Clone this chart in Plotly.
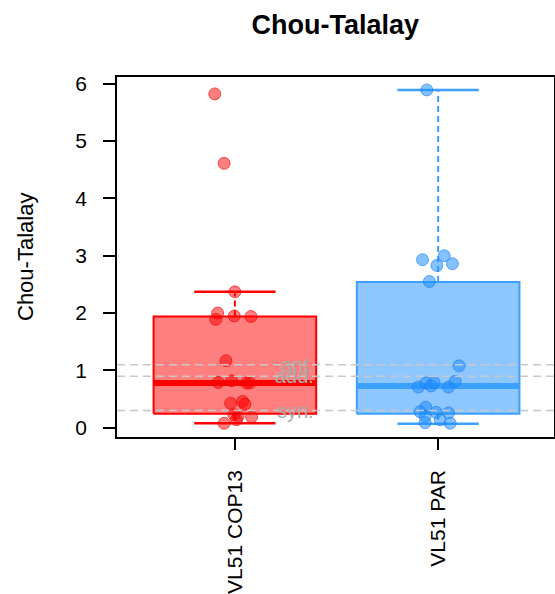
import plotly.graph_objects as go

# ---- data ----
categories = ["VL51 COP13", "VL51 PAR"]

cop13_values = [5.82, 4.61, 2.37, 2.00, 1.89, 1.95, 1.94, 1.17, 0.79, 0.82,
                0.78, 0.78, 0.43, 0.46, 0.41, 0.23, 0.20, 0.19, 0.14, 0.08]
cop13_jitter = [-0.099, -0.053, 0.0, -0.085, -0.094, -0.003, 0.079, -0.044, -0.082, -0.016,
                0.058, 0.074, -0.021, 0.038, 0.049, -0.005, 0.016, 0.082, 0.008, -0.053]

par_values = [5.89, 2.93, 3.00, 2.83, 2.86, 2.55, 1.08, 0.71, 0.78, 0.73,
              0.79, 0.71, 0.81, 0.36, 0.28, 0.27, 0.26, 0.20, 0.14, 0.09, 0.08]
par_jitter = [-0.056, -0.077, 0.030, -0.006, 0.070, -0.043, 0.103, -0.097, -0.059, -0.034,
              -0.020, 0.051, 0.084, -0.061, -0.089, -0.010, 0.051, -0.064, 0.010, -0.064, 0.059]

# box statistics (lower whisker, Q1, median, Q3, upper whisker)
box_lower = [0.08, 0.07]
box_q1 = [0.244, 0.244]
box_median = [0.78, 0.73]
box_q3 = [1.94, 2.54]
box_upper = [2.37, 5.89]

ref_labels = ["ant.", "add.", "syn."]
ref_values = [1.1, 0.9, 0.3]

y_ticks = [0, 1, 2, 3, 4, 5, 6]

# ---- styling ----
FONT = "Liberation Sans, Arial, sans-serif"
line_cols = ["rgb(255,0,0)", "rgb(60,160,255)"]
fill_cols = ["rgba(255,0,0,0.5)", "rgba(30,144,255,0.5)"]
pt_cols = ["rgba(255,0,0,0.5)", "rgba(30,144,255,0.55)"]
pt_line = ["rgba(230,0,0,0.6)", "rgba(30,120,230,0.6)"]
half_w = 0.4
cap_w = 0.2

fig = go.Figure()
positions = [1, 2]
all_values = [cop13_values, par_values]
all_jitter = [cop13_jitter, par_jitter]

for i, pos in enumerate(positions):
    # box
    fig.add_trace(go.Scatter(
        x=[pos - half_w, pos + half_w, pos + half_w, pos - half_w, pos - half_w],
        y=[box_q1[i], box_q1[i], box_q3[i], box_q3[i], box_q1[i]],
        mode="lines", fill="toself", fillcolor=fill_cols[i],
        line=dict(color=line_cols[i], width=2), hoverinfo="skip", showlegend=False))
    # whiskers (dashed)
    fig.add_trace(go.Scatter(
        x=[pos, pos, None, pos, pos],
        y=[box_q3[i], box_upper[i], None, box_q1[i], box_lower[i]],
        mode="lines", line=dict(color=line_cols[i], width=2, dash="6px,4px"),
        hoverinfo="skip", showlegend=False))
    # caps
    fig.add_trace(go.Scatter(
        x=[pos - cap_w, pos + cap_w, None, pos - cap_w, pos + cap_w],
        y=[box_upper[i], box_upper[i], None, box_lower[i], box_lower[i]],
        mode="lines", line=dict(color=line_cols[i], width=2.5),
        hoverinfo="skip", showlegend=False))
    # median
    fig.add_trace(go.Scatter(
        x=[pos - half_w, pos + half_w], y=[box_median[i], box_median[i]],
        mode="lines", line=dict(color=line_cols[i], width=6),
        hoverinfo="skip", showlegend=False))

# reference lines
for val in ref_values:
    fig.add_shape(type="line", xref="paper", x0=0, x1=1, yref="y", y0=val, y1=val,
                  line=dict(color="rgb(200,200,200)", width=1.5, dash="8px,5px"),
                  layer="above")

for i, pos in enumerate(positions):
    fig.add_trace(go.Scatter(
        x=[pos + j for j in all_jitter[i]], y=all_values[i], mode="markers",
        marker=dict(size=12, color=pt_cols[i], line=dict(color=pt_line[i], width=1)),
        showlegend=False, name=categories[i]))

for lab, val in zip(ref_labels, ref_values):
    fig.add_annotation(x=1.4, y=val, xref="x", yref="y", text=lab, showarrow=False,
                       xanchor="right", yanchor="middle",
                       font=dict(size=20, color="rgb(170,170,170)", family=FONT))

fig.add_annotation(x=-0.2105, y=0.5, xref="paper", yref="paper", text="Chou-Talalay",
                   textangle=-90, showarrow=False, xanchor="center", yanchor="middle",
                   font=dict(size=22, color="black", family=FONT))

fig.update_layout(
    width=555, height=594,
    margin=dict(l=117, r=1, t=77, b=157, autoexpand=False),
    paper_bgcolor="white", plot_bgcolor="white",
    font=dict(family=FONT, color="black", size=21),
    title=dict(text="<b>Chou-Talalay</b>", x=0.604, xanchor="center",
               y=1 - 25 / 594, yanchor="middle", yref="container",
               font=dict(size=27, color="black")),
    xaxis=dict(range=[0.42, 2.57], tickvals=positions, ticktext=categories,
               tickangle=-90, ticks="outside", ticklen=11, tickwidth=1.5,
               tickcolor="black", showline=True, linecolor="black", linewidth=1.5,
               mirror=True, showgrid=False, zeroline=False, automargin=False,
               ticklabelstandoff=12),
    yaxis=dict(range=[-0.16, 6.115], tickvals=y_ticks, ticks="outside", ticklen=12,
               tickwidth=1.5, tickcolor="black", showline=True, linecolor="black",
               linewidth=1.5, mirror=True, showgrid=False, zeroline=False,
               automargin=False, ticklabelstandoff=12),
)

fig.write_html("out.html",
               config={"displayModeBar": False},
               post_script="document.body.style.margin='0px';"
                           "document.body.style.overflow='hidden';")
